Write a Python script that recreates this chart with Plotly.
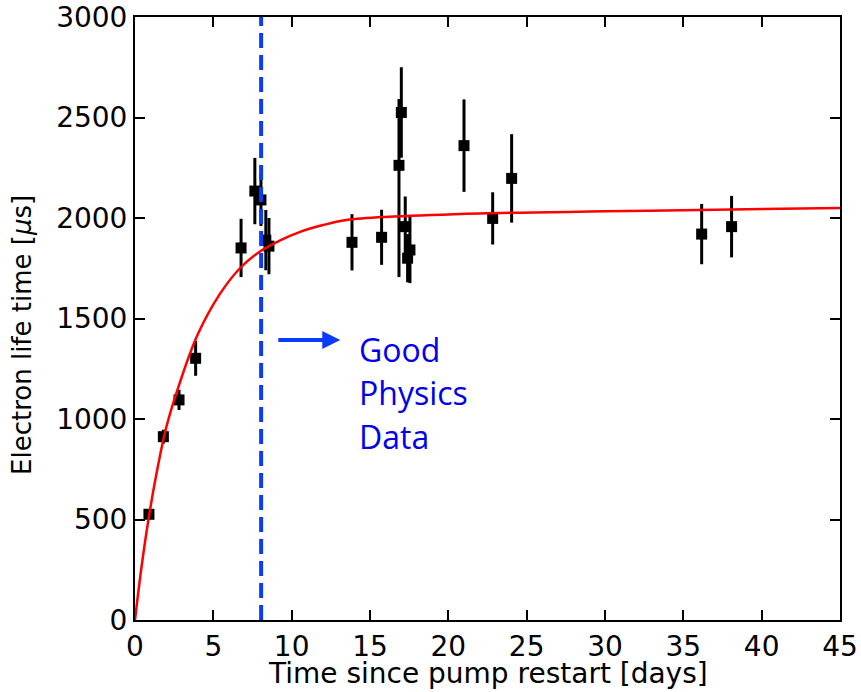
import plotly.graph_objects as go

# Measurements (days, microseconds)
days = [0.89, 1.81, 2.81, 3.87, 6.77, 7.65, 8.04, 8.35, 8.55, 13.85, 15.74,
        16.85, 17.0, 17.25, 17.4, 17.55, 21.0, 22.83, 24.04, 36.17, 38.08]
lifetime = [526, 912, 1095, 1302, 1851, 2134, 2090, 1890, 1860, 1879, 1904,
            2262, 2525, 1957, 1800, 1841, 2360, 1998, 2197, 1920, 1957]
err_plus = [20, 35, 50, 87, 145, 165, 130, 150, 140, 140, 137,
            330, 225, 150, 120, 165, 230, 130, 220, 150, 153]
err_minus = [20, 35, 50, 87, 145, 165, 130, 150, 140, 140, 137,
             556, 225, 150, 120, 165, 230, 130, 220, 150, 153]

# Fit curve
fit_days = [0, 0.4, 0.9, 1.4, 2.0, 2.9, 4.0, 5.4, 6.7, 8.0, 9.3, 10.5, 12, 13.5,
            16.5, 22, 30, 36, 45]
fit_life = [0, 255, 520, 740, 960, 1190, 1420, 1620, 1750, 1835, 1890, 1930, 1965,
            1990, 2007, 2023, 2033, 2040, 2050]

restart_cut = 8.05
x_ticks = [0, 5, 10, 15, 20, 25, 30, 35, 40, 45]
y_ticks = [0, 500, 1000, 1500, 2000, 2500, 3000]
label_lines = ["Good", "Physics", "Data"]
label_y = [1348, 1134, 915]

fig = go.Figure()
fig.add_trace(go.Scatter(
    x=days, y=lifetime, mode="markers",
    marker=dict(symbol="square", size=11, color="black"),
    error_y=dict(type="data", array=err_plus, arrayminus=err_minus,
                 symmetric=False, color="black", thickness=3, width=0),
    showlegend=False))
fig.add_trace(go.Scatter(
    x=fit_days, y=fit_life, mode="lines",
    line=dict(color="red", width=2.5, shape="spline", smoothing=1.0),
    showlegend=False))

fig.add_shape(type="line", xref="x", yref="paper", x0=restart_cut, x1=restart_cut,
              y0=0, y1=1, line=dict(color="#0a3cff", width=4, dash="15px,7px"),
              layer="above")

fig.add_annotation(x=13.1, y=1393, ax=9.05, ay=1393, xref="x", yref="y",
                   axref="x", ayref="y", text="", showarrow=True,
                   arrowhead=2, arrowsize=0.9, arrowwidth=4, arrowcolor="#0a3cff")
for t, yy in zip(label_lines, label_y):
    fig.add_annotation(x=14.2, y=yy, xref="x", yref="y", text=t, showarrow=False,
                       xanchor="left", yanchor="middle",
                       font=dict(family="Open Sans", size=32, color="#0000ee"))

axis_common = dict(showline=True, linecolor="black", linewidth=2, mirror="ticks",
                   ticks="inside", ticklen=10, tickwidth=1.5, tickcolor="black",
                   showgrid=False, zeroline=False, automargin=False,
                   ticklabeloverflow="allow",
                   tickfont=dict(family="DejaVu Sans", size=28, color="black"))
fig.update_xaxes(range=[0, 45], tickvals=x_ticks, **axis_common)
fig.update_yaxes(range=[0, 3000], tickvals=y_ticks, **axis_common)

W, H = 861, 692
L, R, T, B = 135, 21, 17, 72
fig.update_layout(width=W, height=H, margin=dict(l=L, r=R, t=T, b=B, autoexpand=False),
                  plot_bgcolor="white", paper_bgcolor="white")

pw, ph = W - L - R, H - T - B


def px_to_paper(px, py):
    return (px - L) / pw, (H - B - py) / ph


tx, ty = px_to_paper(488, 691)
fig.add_annotation(x=tx, y=ty, xref="paper", yref="paper",
                   text="Time since pump restart [days]", showarrow=False,
                   xanchor="center", yanchor="bottom", borderpad=0,
                   font=dict(family="DejaVu Sans", size=28, color="black"))
yx, yy_ = px_to_paper(22, 335)
fig.add_annotation(x=yx, y=yy_, xref="paper", yref="paper",
                   text="Electron life time [<i>μ</i>s]", showarrow=False, textangle=-90,
                   xanchor="center", yanchor="middle",
                   font=dict(family="DejaVu Sans", size=26, color="black"))
fig.write_html("out.html", config={"displayModeBar": False},
               post_script="document.body.style.margin='0';document.body.style.overflow='hidden';")
